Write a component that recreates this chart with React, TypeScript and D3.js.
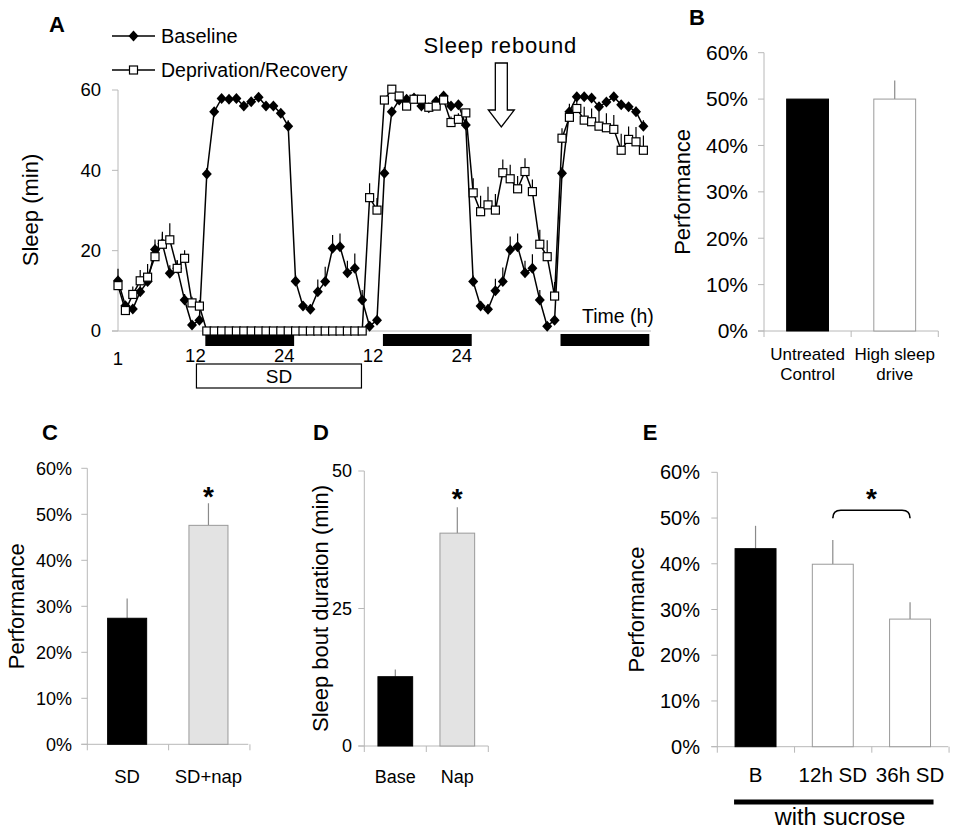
import React from "react";
import * as d3 from "d3";

const FONT = "Arial, 'Liberation Sans', Helvetica, sans-serif";
const AXIS = "#b8b8b8";
const ERR = "#8a8a8a";

// ---- Panel A: sleep per hour (min), hours 1..72 ----
const hours = d3.range(1, 73);
const baseline = [
  12.5, 6.3, 5.5, 9.8, 12.3, 20.3, 21.7, 14.4, 15.6, 7.7, 1.5, 2.7,
  39.1, 54.6, 57.9, 57.7, 57.9, 56.0, 57.1, 58.2, 56.0, 56.0, 54.2, 51.0,
  12.4, 6.2, 5.4, 9.8, 12.3, 20.6, 21.0, 14.5, 15.6, 7.7, 1.2, 2.7,
  39.3, 54.6, 57.5, 57.7, 58.0, 56.0, 55.6, 57.2, 58.5, 56.0, 56.3, 51.3,
  12.3, 6.2, 5.4, 10.0, 12.3, 20.2, 21.0, 14.5, 15.6, 7.7, 1.2, 2.7,
  39.3, 54.6, 58.3, 58.3, 58.0, 55.8, 57.0, 58.3, 56.3, 55.8, 54.6, 51.0,
];
const baselineErr = [
  3.0, 1.0, 1.0, 2.5, 2.5, 2.5, 3.0, 2.0, 2.0, 1.5, 1.0, 1.0,
  1.5, 1.0, 0.8, 0.8, 0.8, 1.0, 0.8, 0.8, 1.0, 1.0, 1.0, 1.5,
  1.5, 1.2, 1.2, 3.0, 3.7, 3.3, 3.3, 3.0, 3.7, 2.5, 1.0, 1.0,
  1.5, 1.0, 0.8, 0.8, 0.8, 1.0, 0.8, 0.8, 1.0, 1.0, 1.0, 1.5,
  1.5, 1.2, 1.2, 3.0, 3.5, 3.3, 3.3, 3.0, 3.5, 2.5, 1.0, 1.0,
  1.5, 1.0, 1.0, 1.0, 1.0, 1.2, 1.0, 1.0, 1.2, 1.2, 1.2, 1.5,
];
const deprivation = [
  11.3, 5.1, 9.1, 12.5, 13.4, 18.5, 21.6, 22.7, 15.6, 18.1, 7.0, 6.2,
  0, 0, 0, 0, 0, 0, 0, 0, 0, 0, 0, 0,
  0, 0, 0, 0, 0, 0, 0, 0, 0, 0, 33.2, 30.1,
  57.5, 60.2, 58.5, 56.0, 57.7, 57.7, 55.7, 56.0, 57.5, 51.9, 52.7, 54.3,
  34.4, 29.7, 31.4, 30.1, 39.4, 37.9, 35.4, 39.7, 34.7, 21.6, 18.5, 8.7,
  48.0, 53.2, 55.4, 52.5, 52.1, 51.0, 50.6, 50.2, 45.0, 47.7, 47.1, 45.0,
];
const deprivationErr = [
  2.0, 1.5, 2.0, 2.7, 3.3, 3.0, 2.7, 4.1, 2.0, 2.0, 1.5, 1.5,
  0, 0, 0, 0, 0, 0, 0, 0, 0, 0, 0, 0,
  0, 0, 0, 0, 0, 0, 0, 0, 0, 0, 3.6, 3.0,
  1.0, 1.0, 1.0, 1.0, 1.0, 1.0, 1.0, 1.0, 1.0, 1.5, 1.5, 1.0,
  3.6, 4.0, 4.5, 4.0, 3.3, 3.5, 3.2, 3.3, 3.0, 3.6, 4.1, 3.5,
  2.5, 3.4, 3.0, 3.3, 3.3, 3.6, 3.6, 3.6, 4.1, 3.2, 3.7, 3.7,
];
const nightPeriods = [[12.8, 24.8], [36.8, 48.8], [60.8, 72.8]];
const sdPeriod = [11.6, 33.9];
const hourTicks = [1, 12, 24, 36, 48];
const hourTickLabels = ["1", "12", "24", "12", "24"];
const sleepTicks = [0, 20, 40, 60];

// ---- Panel B ----
const bCategories = [["Untreated", "Control"], ["High sleep", "drive"]];
const bValues = [0.5, 0.5];
const bErrors = [0, 0.04];

// ---- Panel C ----
const cCategories = [["SD"], ["SD+nap"]];
const cValues = [0.274, 0.476];
const cErrors = [0.043, 0.048];

// ---- Panel D ----
const dCategories = [["Base"], ["Nap"]];
const dValues = [12.6, 38.7];
const dErrors = [1.3, 4.7];

// ---- Panel E ----
const eCategories = [["B"], ["12h SD"], ["36h SD"]];
const eValues = [0.433, 0.399, 0.279];
const eErrors = [0.05, 0.053, 0.037];

const percentTicks = [0, 0.1, 0.2, 0.3, 0.4, 0.5, 0.6];
const boutTicks = [0, 25, 50];
const pct = (v: number) => `${Math.round(v * 100)}%`;

const Letter = ({ x, y, t }: { x: number; y: number; t: string }) => (
  <text x={x} y={y} fontSize={22} fontWeight="bold" textAnchor="middle">{t}</text>
);

function SleepPanel() {
  const x = d3.scaleLinear().domain([1, 72]).range([118, 643.4]);
  const y = d3.scaleLinear().domain([0, 60]).range([331, 90]);
  const line = d3.line<number>().x((_, i) => x(hours[i])).y((d) => y(d));
  const diamond = "M0,-5.5L5,0L0,5.5L-5,0Z";
  const arrowX = x(52.8);

  return (
    <g>
      <Letter x={57} y={32} t="A" />
      {/* legend */}
      <line x1={112} x2={155} y1={36} y2={36} stroke="#000" strokeWidth={1.4} />
      <path d={diamond} transform="translate(133.5,36)" fill="#000" />
      <text x={161} y={43} fontSize={20}>Baseline</text>
      <line x1={112} x2={155} y1={70} y2={70} stroke="#000" strokeWidth={1.4} />
      <rect x={129.5} y={66} width={8} height={8} fill="#fff" stroke="#000" strokeWidth={1.2} />
      <text x={161} y={77} fontSize={19.5}>Deprivation/Recovery</text>

      {/* axes */}
      <line x1={x(1)} x2={x(1)} y1={y(60)} y2={y(0)} stroke={AXIS} />
      <line x1={112} x2={651} y1={y(0)} y2={y(0)} stroke={AXIS} />
      {sleepTicks.map((t) => (
        <g key={t}>
          <line x1={112} x2={x(1)} y1={y(t)} y2={y(t)} stroke={AXIS} />
          <text x={101} y={y(t)} dy="0.35em" fontSize={18.5} textAnchor="end">{t}</text>
        </g>
      ))}
      {hourTicks.map((h, i) => (
        <text key={i} x={x(h) - (i === 0 ? 0 : 4)} y={i === 0 ? 365 : 362} fontSize={18.5} textAnchor="middle">
          {hourTickLabels[i]}
        </text>
      ))}
      <text x={30} y={210} fontSize={22} textAnchor="middle" transform="rotate(-90,30,210)" dy="0.35em">Sleep (min)</text>

      {/* night bars */}
      {nightPeriods.map(([a, b], i) => (
        <rect key={i} x={x(a)} width={x(b) - x(a)} y={334} height={12} fill="#000" />
      ))}
      {/* SD box */}
      <rect x={x(sdPeriod[0])} width={x(sdPeriod[1]) - x(sdPeriod[0])} y={364} height={24} fill="#fff" stroke="#000" strokeWidth={1.2} />
      <text x={(x(sdPeriod[0]) + x(sdPeriod[1])) / 2} y={383} fontSize={19} textAnchor="middle">SD</text>

      <text x={582} y={323} fontSize={19.5}>Time (h)</text>

      {/* rebound annotation */}
      <text x={arrowX - 1} y={53} fontSize={22} letterSpacing={0.8} textAnchor="middle">Sleep rebound</text>
      <path
        d={`M${arrowX - 6},63L${arrowX + 6},63L${arrowX + 6},110L${arrowX + 13},110L${arrowX},127L${arrowX - 13},110L${arrowX - 6},110Z`}
        fill="#fff" stroke="#000" strokeWidth={1.3}
      />

      {/* baseline series */}
      {baseline.map((v, i) => (
        <line key={"be" + i} x1={x(hours[i])} x2={x(hours[i])} y1={y(v)} y2={y(v + baselineErr[i])} stroke="#000" strokeWidth={1.2} />
      ))}
      <path d={line(baseline) || ""} fill="none" stroke="#000" strokeWidth={1.5} />
      {baseline.map((v, i) => (
        <path key={"bp" + i} d={diamond} transform={`translate(${x(hours[i])},${y(v)})`} fill="#000" />
      ))}

      {/* deprivation / recovery series */}
      {deprivation.map((v, i) => (
        <line key={"de" + i} x1={x(hours[i])} x2={x(hours[i])} y1={y(v)} y2={y(v + deprivationErr[i])} stroke="#000" strokeWidth={1.2} />
      ))}
      <path d={line(deprivation) || ""} fill="none" stroke="#000" strokeWidth={1.5} />
      {deprivation.map((v, i) => (
        <rect key={"dp" + i} x={x(hours[i]) - 4} y={y(v) - 4} width={8} height={8} fill="#fff" stroke="#000" strokeWidth={1.2} />
      ))}
    </g>
  );
}

type BarProps = {
  letter: string;
  letterPos: [number, number];
  xRange: [number, number];
  yRange: [number, number];
  domainMax: number;
  ticks: number[];
  fmt: (v: number) => string;
  cats: string[][];
  values: number[];
  errors: number[];
  fills: string[];
  strokes: string[];
  padInner: number;
  padOuter: number;
  tickFont: number;
  catFont: number;
  catY: number;
  title: string;
  titleX: number;
  titleFont: number;
  labelRight: number;
  children?: (x: d3.ScaleBand<string>, y: d3.ScaleLinear<number, number>) => React.ReactNode;
};

function BarPanel(p: BarProps) {
  const keys = p.cats.map((c) => c.join(" "));
  const x = d3.scaleBand<string>().domain(keys).range(p.xRange).paddingInner(p.padInner).paddingOuter(p.padOuter);
  const y = d3.scaleLinear().domain([0, p.domainMax]).range([p.yRange[1], p.yRange[0]]);
  const [x0, x1] = p.xRange;
  const yb = y(0);
  const step = x.step();
  const titleY = (y(0) + y(p.domainMax)) / 2;
  return (
    <g>
      <Letter x={p.letterPos[0]} y={p.letterPos[1]} t={p.letter} />
      <line x1={x0} x2={x0} y1={y(p.domainMax)} y2={yb} stroke={AXIS} />
      <line x1={x0 - 6} x2={x1} y1={yb} y2={yb} stroke={AXIS} />
      {p.ticks.map((t) => (
        <g key={t}>
          <line x1={x0 - 6} x2={x0} y1={y(t)} y2={y(t)} stroke={AXIS} />
          <text x={p.labelRight} y={y(t)} dy="0.35em" fontSize={p.tickFont} textAnchor="end">{p.fmt(t)}</text>
        </g>
      ))}
      {d3.range(keys.length + 1).map((i) => (
        <line key={i} x1={x0 + i * step} x2={x0 + i * step} y1={yb} y2={yb + 6} stroke={AXIS} />
      ))}
      {keys.map((k, i) => (
        <g key={k}>
          {p.errors[i] > 0 && (
            <line x1={x(k)! + x.bandwidth() / 2} x2={x(k)! + x.bandwidth() / 2} y1={y(p.values[i])} y2={y(p.values[i] + p.errors[i])} stroke={ERR} strokeWidth={1.2} />
          )}
          <rect x={x(k)} y={y(p.values[i])} width={x.bandwidth()} height={yb - y(p.values[i])} fill={p.fills[i]} stroke={p.strokes[i]} strokeWidth={1} />
          {p.cats[i].map((ln, j) => (
            <text key={j} x={x(k)! + x.bandwidth() / 2} y={p.catY + j * 20} fontSize={p.catFont} textAnchor="middle">{ln}</text>
          ))}
        </g>
      ))}
      <text x={p.titleX} y={titleY} fontSize={p.titleFont} textAnchor="middle" dy="0.35em" transform={`rotate(-90,${p.titleX},${titleY})`}>{p.title}</text>
      {p.children && p.children(x, y)}
    </g>
  );
}

export default function App() {
  return (
    <svg width={973} height={838} style={{ position: "absolute", left: 0, top: 0, background: "#fff" }} fontFamily={FONT}>
      <rect width={973} height={838} fill="#fff" />
      <SleepPanel />
      <BarPanel
        letter="B" letterPos={[697, 25]}
        xRange={[764, 938.3]} yRange={[52.7, 331]}
        domainMax={0.6} ticks={percentTicks} fmt={pct}
        cats={bCategories} values={bValues} errors={bErrors}
        fills={["#000", "#fff"]} strokes={["#000", "#9a9a9a"]}
        padInner={0.52} padOuter={0.26}
        tickFont={21} catFont={17} catY={360} title="Performance" titleX={682} titleFont={22} labelRight={748}
      />
      <BarPanel
        letter="C" letterPos={[50, 440]}
        xRange={[87.3, 248.3]} yRange={[468.3, 744.3]}
        domainMax={0.6} ticks={percentTicks} fmt={pct}
        cats={cCategories} values={cValues} errors={cErrors}
        fills={["#000", "#e3e3e3"]} strokes={["#000", "#9a9a9a"]}
        padInner={0.52} padOuter={0.25}
        tickFont={18} catFont={18.5} catY={783} title="Performance" titleX={16} titleFont={22} labelRight={72}
      >
        {(x, y) => (
          <text x={x("SD+nap")! + x.bandwidth() / 2} y={y(0.524) + 3} fontSize={28} fontWeight="bold" textAnchor="middle">*</text>
        )}
      </BarPanel>
      <BarPanel
        letter="D" letterPos={[321, 440]}
        xRange={[364.3, 488.3]} yRange={[471, 746]}
        domainMax={50} ticks={boutTicks} fmt={(v) => `${v}`}
        cats={dCategories} values={dValues} errors={dErrors}
        fills={["#000", "#e3e3e3"]} strokes={["#000", "#9a9a9a"]}
        padInner={0.44} padOuter={0.22}
        tickFont={18} catFont={18} catY={783} title="Sleep bout duration (min)" titleX={320} titleFont={22} labelRight={352}
      >
        {(x, y) => (
          <text x={x("Nap")! + x.bandwidth() / 2} y={y(43.4) + 1} fontSize={28} fontWeight="bold" textAnchor="middle">*</text>
        )}
      </BarPanel>
      <BarPanel
        letter="E" letterPos={[650, 440]}
        xRange={[717.3, 948.3]} yRange={[472.3, 746.7]}
        domainMax={0.6} ticks={percentTicks} fmt={pct}
        cats={eCategories} values={eValues} errors={eErrors}
        fills={["#000", "#fff", "#fff"]} strokes={["#000", "#9a9a9a", "#9a9a9a"]}
        padInner={0.47} padOuter={0.23}
        tickFont={20} catFont={20.5} catY={782} title="Performance" titleX={636} titleFont={22} labelRight={700}
      >
        {(x, y) => {
          const a = x("12h SD")! + x.bandwidth() / 2;
          const b = x("36h SD")! + x.bandwidth() / 2;
          const by = y(0.517);
          return (
            <g>
              <path
                d={`M${a},${by + 8}Q${a},${by} ${a + 8},${by}L${b - 8},${by}Q${b},${by} ${b},${by + 8}`}
                fill="none" stroke="#000" strokeWidth={1.6}
              />
              <text x={(a + b) / 2} y={by - 2} fontSize={28} fontWeight="bold" textAnchor="middle">*</text>
              <line x1={x("B")! - 1} x2={x("36h SD")! + x.bandwidth() + 3} y1={802} y2={802} stroke="#000" strokeWidth={5} />
              <text x={840} y={825} fontSize={23.5} textAnchor="middle">with sucrose</text>
            </g>
          );
        }}
      </BarPanel>
    </svg>
  );
}
